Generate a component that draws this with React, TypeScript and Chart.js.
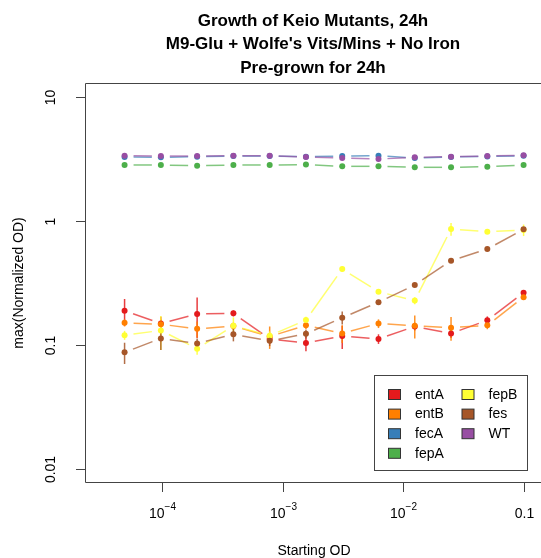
import React, { useEffect, useRef } from "react";
import { Chart, registerables } from "chart.js";

Chart.register(...registerables);

// ---------- data ----------
const startingOD = [
  4.8828e-5, 9.7656e-5, 1.9531e-4, 3.9063e-4, 7.8125e-4, 1.5625e-3,
  3.125e-3, 6.25e-3, 0.0125, 0.025, 0.05, 0.1,
];

const entA = [0.189, 0.149, 0.178, 0.18, 0.112, 0.104, 0.118, 0.112, 0.141, 0.124, 0.158, 0.264];
const entB = [0.151, 0.147, 0.135, 0.142, 0.117, 0.144, 0.124, 0.149, 0.143, 0.138, 0.144, 0.243];
const fecA = [3.28, 3.26, 3.3, 3.34, 3.34, 3.3, 3.34, 3.36, 3.22, 3.28, 3.32, 3.36];
const fepA = [2.83, 2.83, 2.79, 2.83, 2.83, 2.85, 2.76, 2.76, 2.71, 2.71, 2.74, 2.83];
const fepB = [0.12, 0.131, 0.0934, 0.143, 0.119, 0.159, 0.41, 0.269, 0.228, 0.862, 0.82, 0.846];
const fes = [0.0873, 0.113, 0.103, 0.122, 0.108, 0.123, 0.166, 0.221, 0.305, 0.478, 0.594, 0.857];
const WT = [3.36, 3.34, 3.34, 3.36, 3.36, 3.28, 3.22, 3.16, 3.26, 3.3, 3.34, 3.39];

const entAErr = [0.046, 0.02, 0.064, 0.01, 0.01, 0.015, 0.025, 0.01, 0.01, 0.01, 0.012, 0.012];
const entBErr = [0.01, 0.015, 0.02, 0.01, 0.024, 0.01, 0.02, 0.012, 0.03, 0.03, 0.01, 0.01];
const fecAErr = [0.05, 0.05, 0.05, 0.05, 0.05, 0.05, 0.05, 0.05, 0.05, 0.05, 0.05, 0.05];
const fepAErr = [0.04, 0.04, 0.04, 0.04, 0.04, 0.04, 0.04, 0.04, 0.04, 0.04, 0.04, 0.04];
const fepBErr = [0.01, 0.04, 0.01, 0.024, 0.01, 0.01, 0.02, 0.01, 0.015, 0.1, 0.03, 0.09];
const fesErr = [0.017, 0.022, 0.01, 0.015, 0.01, 0.01, 0.02, 0.01, 0.01, 0.01, 0.01, 0.03];
const WTErr = [0.05, 0.05, 0.05, 0.05, 0.05, 0.05, 0.05, 0.05, 0.05, 0.05, 0.05, 0.05];

const seriesNames = ["entA", "entB", "fecA", "fepA", "fepB", "fes", "WT"];
const seriesValues = [entA, entB, fecA, fepA, fepB, fes, WT];
const seriesErrors = [entAErr, entBErr, fecAErr, fepAErr, fepBErr, fesErr, WTErr];
const seriesColors = ["#E41A1C", "#FF7F00", "#377EB8", "#4DAF4A", "#FFFF33", "#A65628", "#984EA3"];

const xTickValues = [1e-4, 1e-3, 1e-2, 0.1];
const xTickBase = ["10", "10", "10", "0.1"];
const xTickExp = ["\u22124", "\u22123", "\u22122", ""];
const yTickValues = [0.01, 0.1, 1, 10];
const yTickLabels = ["0.01", "0.1", "1", "10"];

const titleLines = [
  "Growth of Keio Mutants, 24h",
  "M9-Glu + Wolfe's Vits/Mins + No Iron",
  "Pre-grown for 24h",
];
const xTitle = "Starting OD";
const yTitle = "max(Normalized OD)";

// ---------- helpers ----------
const FONT = "'Liberation Sans', Arial, Helvetica, sans-serif";
const AXIS_COLOR = "#444";
const GAP = 9;

function rgba(hex: string, a: number) {
  const n = parseInt(hex.slice(1), 16);
  return `rgba(${(n >> 16) & 255},${(n >> 8) & 255},${n & 255},${a})`;
}

const linesAndErrors = {
  id: "linesAndErrors",
  beforeDatasetsDraw(chart: any) {
    const ctx = chart.ctx;
    const ys = chart.scales.y;
    chart.data.datasets.forEach((_ds: any, di: number) => {
      const pts = chart.getDatasetMeta(di).data;
      ctx.save();
      ctx.strokeStyle = rgba(seriesColors[di], 0.7);
      ctx.lineWidth = 1.5;
      for (let i = 0; i < pts.length - 1; i++) {
        const a = pts[i];
        const b = pts[i + 1];
        const dx = b.x - a.x;
        const dy = b.y - a.y;
        const len = Math.hypot(dx, dy);
        if (len <= 2 * GAP) continue;
        const ux = dx / len;
        const uy = dy / len;
        ctx.beginPath();
        ctx.moveTo(a.x + ux * GAP, a.y + uy * GAP);
        ctx.lineTo(b.x - ux * GAP, b.y - uy * GAP);
        ctx.stroke();
      }
      ctx.strokeStyle = rgba(seriesColors[di], 0.85);
      ctx.lineWidth = 1.5;
      pts.forEach((p: any, i: number) => {
        const v = seriesValues[di][i];
        const e = seriesErrors[di][i];
        const top = ys.getPixelForValue(v + e);
        const bot = ys.getPixelForValue(Math.max(v - e, 1e-6));
        ctx.beginPath();
        ctx.moveTo(p.x, top);
        ctx.lineTo(p.x, bot);
        ctx.stroke();
      });
      ctx.restore();
    });
  },
};

const decorations = {
  id: "decorations",
  afterDraw(chart: any) {
    const ctx = chart.ctx;
    const { left, top, right, bottom } = chart.chartArea;
    const xs = chart.scales.x;
    const ys = chart.scales.y;
    ctx.save();
    // box (right edge lies beyond the canvas)
    ctx.strokeStyle = AXIS_COLOR;
    ctx.lineWidth = 1;
    ctx.beginPath();
    ctx.moveTo(chart.width + 5, top + 0.5);
    ctx.lineTo(left + 0.5, top + 0.5);
    ctx.lineTo(left + 0.5, bottom - 0.5);
    ctx.lineTo(chart.width + 5, bottom - 0.5);
    ctx.stroke();

    // x ticks
    ctx.fillStyle = "#000";
    xTickValues.forEach((v, i) => {
      const px = Math.round(xs.getPixelForValue(v)) + 0.5;
      ctx.beginPath();
      ctx.moveTo(px, bottom);
      ctx.lineTo(px, bottom + 9);
      ctx.stroke();
      ctx.font = `14px ${FONT}`;
      const wb = ctx.measureText(xTickBase[i]).width;
      ctx.font = `10px ${FONT}`;
      const we = xTickExp[i] ? ctx.measureText(xTickExp[i]).width : 0;
      const start = px - (wb + we) / 2;
      ctx.textAlign = "left";
      ctx.textBaseline = "alphabetic";
      ctx.font = `14px ${FONT}`;
      ctx.fillText(xTickBase[i], start, 518);
      if (xTickExp[i]) {
        ctx.font = `10px ${FONT}`;
        ctx.fillText(xTickExp[i], start + wb, 510);
      }
    });

    // y ticks
    yTickValues.forEach((v, i) => {
      const py = Math.round(ys.getPixelForValue(v)) + 0.5;
      ctx.beginPath();
      ctx.moveTo(left, py);
      ctx.lineTo(left - 9, py);
      ctx.stroke();
      ctx.save();
      ctx.translate(51, py);
      ctx.rotate(-Math.PI / 2);
      ctx.font = `14px ${FONT}`;
      ctx.textAlign = "center";
      ctx.textBaseline = "middle";
      ctx.fillText(yTickLabels[i], 0, 0);
      ctx.restore();
    });

    // axis titles
    const cx = 314;
    ctx.font = `14px ${FONT}`;
    ctx.textAlign = "center";
    ctx.textBaseline = "middle";
    ctx.fillText(xTitle, cx, 551);
    ctx.save();
    ctx.translate(19, (top + bottom) / 2);
    ctx.rotate(-Math.PI / 2);
    ctx.fillText(yTitle, 0, 0);
    ctx.restore();

    // main title
    ctx.font = `bold 17px ${FONT}`;
    const titleY = [21, 44.5, 68];
    titleLines.forEach((t, i) => ctx.fillText(t, 313, titleY[i]));

    // legend
    const bx = 374.5, by = 375.5, bw = 153, bh = 95;
    ctx.fillStyle = "#fff";
    ctx.fillRect(bx, by, bw, bh);
    ctx.strokeStyle = AXIS_COLOR;
    ctx.strokeRect(bx, by, bw, bh);
    const colX = [388.5, 462];
    const rowY0 = 394.5;
    const rowH = 19.6;
    ctx.font = `14px ${FONT}`;
    ctx.textAlign = "left";
    ctx.textBaseline = "middle";
    seriesNames.forEach((name, i) => {
      const col = i < 4 ? 0 : 1;
      const row = i < 4 ? i : i - 4;
      const sx = colX[col];
      const sy = rowY0 + row * rowH;
      ctx.fillStyle = seriesColors[i];
      ctx.fillRect(sx, sy - 5, 12, 10);
      ctx.strokeStyle = "#333";
      ctx.strokeRect(sx, sy - 5, 12, 10);
      ctx.fillStyle = "#000";
      ctx.fillText(name, sx + 26.5, sy + 0.5);
    });
    ctx.restore();
  },
};

export default function App() {
  const canvasRef = useRef<HTMLCanvasElement | null>(null);

  useEffect(() => {
    document.body.style.margin = "0";
    const canvas = canvasRef.current;
    if (!canvas) return;
    const datasets = seriesNames.map((name, i) => ({
      label: name,
      data: startingOD.map((x, j) => ({ x, y: seriesValues[i][j] })),
      backgroundColor: seriesColors[i],
      borderColor: seriesColors[i],
      pointRadius: 3,
      pointBorderWidth: 0,
      pointHoverRadius: 3,
      showLine: false,
      order: seriesNames.length - i,
    }));
    const chart = new Chart(canvas, {
      type: "scatter",
      data: { datasets },
      options: {
        animation: false,
        responsive: true,
        maintainAspectRatio: false,
        devicePixelRatio: 1,
        layout: { padding: { top: 83, left: 0, right: 0, bottom: 0 } },
        plugins: {
          legend: { display: false },
          title: { display: false },
          tooltip: { enabled: false },
        },
        scales: {
          x: {
            type: "logarithmic",
            min: 2.292e-5,
            max: 0.1317,
            bounds: "data",
            grid: { display: false },
            border: { display: false },
            ticks: { display: false },
            afterFit: (s: any) => {
              s.height = 75;
            },
          },
          y: {
            type: "logarithmic",
            min: 0.00771,
            max: 12.97,
            bounds: "data",
            grid: { display: false },
            border: { display: false },
            ticks: { display: false },
            afterFit: (s: any) => {
              s.width = 85;
            },
          },
        },
      } as any,
      plugins: [linesAndErrors, decorations],
    });
    return () => chart.destroy();
  }, []);

  return (
    <div style={{ position: "relative", width: 541, height: 558 }}>
      <canvas ref={canvasRef} />
    </div>
  );
}
